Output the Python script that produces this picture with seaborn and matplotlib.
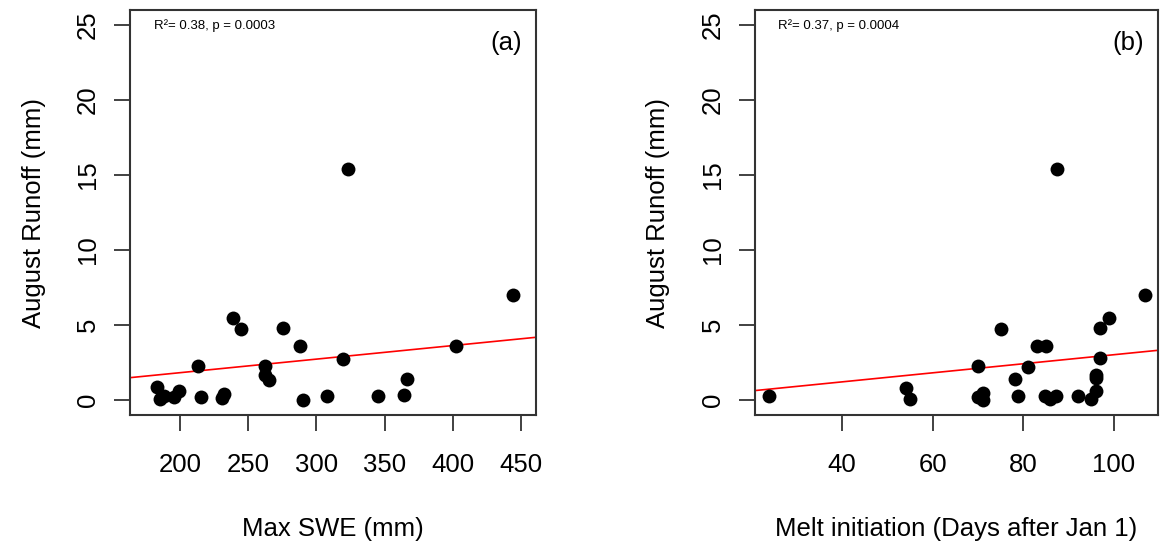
import numpy as np
import pandas as pd
import matplotlib
matplotlib.use("Agg")
import matplotlib.pyplot as plt
import seaborn as sns

# Panel (a): maximum snow water equivalent vs August runoff
max_swe = [182.9, 185.3, 188.5, 195.8, 199.0, 213.0, 215.4, 230.6, 232.5, 239.1,
           244.7, 262.3, 262.3, 265.0, 275.7, 288.0, 290.4, 307.5, 319.7, 322.9,
           345.0, 364.0, 366.7, 402.1, 443.9]
runoff_a = [0.85, 0.05, 0.27, 0.22, 0.58, 2.27, 0.18, 0.11, 0.38, 5.44,
            4.73, 2.27, 1.67, 1.33, 4.82, 3.62, 0.00, 0.27, 2.73, 15.4,
            0.27, 0.31, 1.38, 3.62, 7.00]

# Panel (b): melt initiation day vs August runoff
melt_day = [24.0, 54.1, 55.0, 70.1, 70.1, 71.1, 71.1, 75.1, 78.1, 78.9,
            81.0, 83.0, 85.0, 84.8, 85.9, 87.2, 87.5, 92.0, 95.0, 96.0,
            96.0, 96.0, 97.0, 97.0, 99.0, 106.9]
runoff_b = [0.27, 0.82, 0.07, 2.27, 0.22, 0.49, 0.00, 4.73, 1.38, 0.29,
            2.18, 3.60, 3.60, 0.29, 0.04, 0.27, 15.4, 0.29, 0.07, 0.62,
            1.44, 1.70, 2.78, 4.82, 5.44, 7.00]

# Fitted regression lines (intercept, slope)
fit_a = (0.013, 0.00904)
fit_b = (0.0, 0.0302)

stats_a = "R\u00b2= 0.38, p = 0.0003"
stats_b = "R\u00b2= 0.37, p = 0.0004"
panel_a = "(a)"
panel_b = "(b)"
xlabel_a = "Max SWE (mm)"
xlabel_b = "Melt initiation (Days after Jan 1)"
ylabel = "August Runoff (mm)"

xticks_a = [200, 250, 300, 350, 400, 450]
xticks_b = [40, 60, 80, 100]
yticks = [0, 5, 10, 15, 20, 25]

sns.set_style("ticks")
plt.rcParams["font.family"] = ["Liberation Sans", "DejaVu Sans"]
plt.rcParams["text.color"] = "black"
plt.rcParams["axes.labelcolor"] = "black"
plt.rcParams["xtick.color"] = "black"
plt.rcParams["ytick.color"] = "black"

fig = plt.figure(figsize=(11.6, 5.48), dpi=100)
ax_a = fig.add_axes([130 / 1160, 1 - 415 / 548, 406 / 1160, 405 / 548])
ax_b = fig.add_axes([754.5 / 1160, 1 - 415 / 548, 403.5 / 1160, 405 / 548])

df_a = pd.DataFrame({"x": max_swe, "y": runoff_a})
df_b = pd.DataFrame({"x": melt_day, "y": runoff_b})

FS = 18.5


def draw_panel(ax, df, fit, xlim, xticks, stats, tag, xlabel):
    sns.scatterplot(data=df, x="x", y="y", ax=ax, color="black", s=100,
                    edgecolor="black", linewidth=0, zorder=3, legend=False)
    xs = np.array(xlim)
    ax.plot(xs, fit[0] + fit[1] * xs, color="red", lw=1.2, zorder=2)
    ax.set_xlim(*xlim)
    ax.set_ylim(-1, 26)
    ax.set_xticks(xticks)
    ax.set_yticks(yticks)
    ax.tick_params(axis="both", direction="out", length=11.5, width=1.3,
                   color="#333333", labelsize=FS, labelcolor="black")
    ax.tick_params(axis="x", pad=16)
    ax.tick_params(axis="y", pad=10)
    ax.set_xlabel(xlabel, fontsize=FS, labelpad=29, color="black")
    ax.set_ylabel(ylabel, fontsize=FS, labelpad=22, color="black")
    for lab in ax.get_yticklabels():
        lab.set_rotation(90)
        lab.set_va("center")
    for sp in ax.spines.values():
        sp.set_visible(True)
        sp.set_linewidth(1.5)
        sp.set_color("#333333")
    ax.text(0.058, 0.962, stats, transform=ax.transAxes, fontsize=9.5,
            ha="left", va="center", color="black")
    ax.text(0.965, 0.918, tag, transform=ax.transAxes, fontsize=FS,
            ha="right", va="center", color="black")


draw_panel(ax_a, df_a, fit_a, (163.3, 461.0), xticks_a, stats_a, panel_a, xlabel_a)
draw_panel(ax_b, df_b, fit_b, (20.7, 109.7), xticks_b, stats_b, panel_b, xlabel_b)

fig.savefig("out.png", dpi=100)
